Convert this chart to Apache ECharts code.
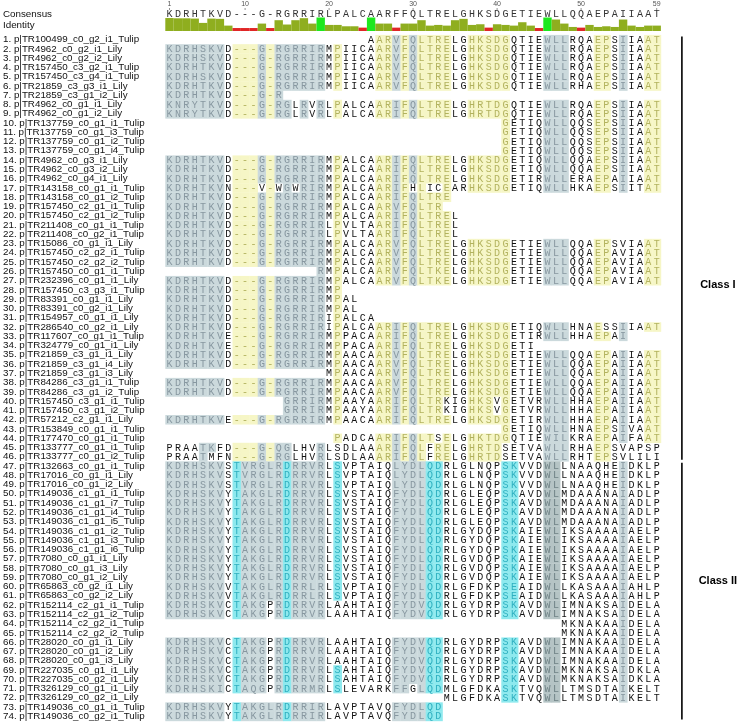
<!DOCTYPE html>
<html><head><meta charset="utf-8">
<script src="https://cdn.jsdelivr.net/npm/echarts@6/dist/echarts.min.js"></script>
<style>html,body{margin:0;padding:0;background:#fff}#c{width:738px;height:722px}</style>
</head><body><div id="c"></div><script>
// ---------------- DATA ----------------
const names = [
"p|TR100499_c0_g2_i1_Tulip","p|TR4962_c0_g2_i1_Lily","p|TR4962_c0_g2_i2_Lily","p|TR157450_c3_g2_i1_Tulip",
"p|TR157450_c3_g4_i1_Tulip","p|TR21859_c3_g3_i1_Lily","p|TR21859_c3_g1_i2_Lily","p|TR4962_c0_g1_i1_Lily",
"p|TR4962_c0_g1_i2_Lily","p|TR137759_c0_g1_i1_Tulip","p|TR137759_c0_g1_i3_Tulip","p|TR137759_c0_g1_i2_Tulip",
"p|TR137759_c0_g1_i4_Tulip","p|TR4962_c0_g3_i1_Lily","p|TR4962_c0_g3_i2_Lily","p|TR4962_c0_g4_i1_Lily",
"p|TR143158_c0_g1_i1_Tulip","p|TR143158_c0_g1_i2_Tulip","p|TR157450_c2_g1_i1_Tulip","p|TR157450_c2_g1_i2_Tulip",
"p|TR211408_c0_g1_i1_Tulip","p|TR211408_c0_g2_i1_Tulip","p|TR15086_c0_g1_i1_Lily","p|TR157450_c2_g2_i1_Tulip",
"p|TR157450_c2_g2_i2_Tulip","p|TR157450_c0_g1_i1_Tulip","p|TR232396_c0_g1_i1_Lily","p|TR157450_c3_g3_i1_Tulip",
"p|TR83391_c0_g1_i1_Lily","p|TR83391_c0_g2_i1_Lily","p|TR154957_c0_g1_i1_Lily","p|TR286540_c0_g2_i1_Lily",
"p|TR117607_c0_g1_i1_Tulip","p|TR324779_c0_g1_i1_Lily","p|TR21859_c3_g1_i1_Lily","p|TR21859_c3_g1_i4_Lily",
"p|TR21859_c3_g1_i3_Lily","p|TR84286_c3_g1_i1_Tulip","p|TR84286_c3_g1_i2_Tulip","p|TR157450_c3_g1_i1_Tulip",
"p|TR157450_c3_g1_i2_Tulip","p|TR57212_c2_g1_i1_Lily","p|TR153849_c0_g1_i1_Tulip","p|TR177470_c0_g1_i1_Tulip",
"p|TR133777_c0_g1_i1_Tulip","p|TR133777_c0_g1_i2_Tulip","p|TR132663_c0_g1_i1_Tulip","p|TR17016_c0_g1_i1_Lily",
"p|TR17016_c0_g1_i2_Lily","p|TR149036_c1_g1_i1_Tulip","p|TR149036_c1_g1_i7_Tulip","p|TR149036_c1_g1_i4_Tulip",
"p|TR149036_c1_g1_i5_Tulip","p|TR149036_c1_g1_i2_Tulip","p|TR149036_c1_g1_i3_Tulip","p|TR149036_c1_g1_i6_Tulip",
"p|TR7080_c0_g1_i1_Lily","p|TR7080_c0_g1_i3_Lily","p|TR7080_c0_g1_i2_Lily","p|TR65863_c0_g2_i1_Lily",
"p|TR65863_c0_g2_i2_Lily","p|TR152114_c2_g1_i1_Tulip","p|TR152114_c2_g1_i2_Tulip","p|TR152114_c2_g2_i1_Tulip",
"p|TR152114_c2_g2_i2_Tulip","p|TR28020_c0_g1_i1_Lily","p|TR28020_c0_g1_i2_Lily","p|TR28020_c0_g1_i3_Lily",
"p|TR227035_c0_g1_i1_Lily","p|TR227035_c0_g2_i1_Lily","p|TR326129_c0_g1_i1_Lily","p|TR326129_c0_g2_i1_Lily",
"p|TR149036_c0_g1_i1_Tulip","p|TR149036_c0_g2_i1_Tulip"
];
const sequences = [
"                        AARVFQLTRELGHKSDGQTIEWLLRQAEPSIIAAT",
"KDRHSKVD---G-RGRRIRMPIICAARVFQLTRELGHKSDGQTIEWLLRQAEPSIIAAT",
"KDRHSKVD---G-RGRRIRMPIICAARVFQLTRELGHKSDGQTIEWLLRQAEPSIIAAT",
"KDRHTKVD---G-RGRRIRMPIICAARVFQLTRELGHKSDGQTIEWLLRQAEPSIIAAT",
"KDRHSKVD---G-RGRRIRMPIICAARVFQLTRELGHKSDGQTIEWLLRQAEPSIIAAT",
"KDRHTKVD---G-RGRRIRMPIICAARVFQLTRELGHKSDGQTIEWLLRHAEPSIIAAT",
"KDRHTKVD---G-R",
"KNRYTKVD---G-RGLRVRLPALCAARIFQLTRELGHRTDGQTIEWLLRQAEPSIIAAT",
"KNRYTKVD---G-RGLRVRLPALCAARIFQLTRELGHRTDGQTIEWLLRQAEPSIIAAT",
"                                        GETIQWLLQQSEPSIIAAT",
"                                        GETIQWLLQQSEPSIIAAT",
"                                        GETIQWLLQQSEPSIIAAT",
"                                        GETIQWLLQQSEPSIIAAT",
"KDRHTKVD---G-RGRRIRMPALCAARIFQLTRELGHKSDGETIQWLLQQAEPSIIAAT",
"KDRHTKVD---G-RGRRIRMPALCAARIFQLTRELGHKSDGETIQWLLQQAEPSIIAAT",
"KDRHTKVD---G-RGRRIRMPALCAARIFQLTRELGHKSDGETIRWLLERAEPAIIAAT",
"KDRHTKVN---V-WGWRIRMPALCAARIFHLICEARHKSDGETIQWLLHKAEPSIITAT",
"KDRHTKVD---G-RGRRIRMPALCAARIFQLTRE",
"KDRHTKVD---G-RGRRIRMPALCAARVFQLTR",
"KDRHTKVD---G-RGRRIRMPALCAARIFQLTREL",
"KDRHTKVD---G-RGRRIRLPVLTAARIFQLTREL",
"KDRHTKVD---G-RGRRIRLPVLTAARIFQLTREL",
"KDRHTKVD---G-RGRRIRMPALCAARVFQLTRELGHKSDGETIEWLLQQAEPSVIAAT",
"KDRHTKVD---G-RGRRIRMPALCAARVFQLTRELGHKSDGETIEWLLQQAEPAVIAAT",
"KDRHTKVD---G-RGRRIRMPALCAARVFQLTRELGHKSDGETIEWLLQQAEPAVIAAT",
"                  RMPALCAARVFQLTKELGHKSDGETIEWLLQQAEPAVIAAT",
"KDRHTKVD---G-RGRRIRMPALCAARVFQLTKELGHKSDGETIEWLLQQAEPAVIAAT",
"KDRHTKVD---G-RGRRIRMP",
"KDRHTKVD---G-RGRRIRMPAL",
"KDRHTKVD---G-RGRRIRMPAL",
"KDRHTKVD---G-RGRRIRIPALCA",
"KDRHTKVD---G-RGRRIRIPALCAARIFQLTRELGHKSDGETIQWLLHNAESSIIAAT",
"KDRHTKVE---G-RGRRIRMPPACAARIFQLTRELGHKSDGETIRWLLHHAEPAI",
"KDRHTKVE---G-RGRRIRMPPACAARIFQLTRELGHKSDGETI",
"KDRHTKVD---G-RGRRIRMPAACAARVFQLTRELGHKSDGETIEWLLQQAEPAIIAAT",
"KDRHTKVD---G-RGRRIRMPAACAARVFQLTRELGHKSDGETIEWLLQQAEPAIIAAT",
"                   MPAACAARVFQLTRELGHKSDGETIEWLLQQAEPAIIAAT",
"KDRHTKVD---G-RGRRIRMPAACAARVFQLTRELGHKSDGETIEWLLQQAEPAIIAAT",
"KDRHTKVD---G-RGRRIRMPAACAARVFQLTRELGHKSDGETIEWLLQQAEPAIIAAT",
"              GRRIRMPAAYAARIFQLTRKIGHKSVGETVRWLLHHAEPAIIAAT",
"              GRRIRMPAAYAARIFQLTRKIGHKSVGETVRWLLHHAEPAIIAAT",
"KDRHTKVE---G-RGRRIRMPAACAARIFQLTRELGHKSDGETIRWLLHHAEPAIIAAT",
"                                        GETIQWLLHNAEPSIVAAT",
"                    PADCAARIFQLTSELGHKTDGQTIEWILKRAEPAIFAAT",
"PRAATKFD---G-QGLHVRLSDLAAARIFQLFRELGHRTDSETVAWLLRHAEPSVAPSP",
"PRAATMFN---G-RGLHVRLSDLAAARIFQLFRELGHRTDSETVAWLLRHTEPSVLILI",
"KDRHSKVSTVRGLRDRRVRLSVPTAIQLYDLQDRLGLNQPSKVVDWLLNAAQHEIDKLP",
"KDRHSKVSTVRGLRDRRVRLSVPTAIQLYDLQDRLGLNQPSKVVDWLLNAAQHEIDKLP",
"KDRHSKVSTVRGLRDRRVRLSVPTAIQLYDLQDRLGLNQPSKVVDWLLNAAQHEIDKLP",
"KDRHSKVYTAKGLRDRRVRLSVSTAIQFYDLQDRLGLEQPSKAVDWLMDAAANAIADLP",
"KDRHSKVYTAKGLRDRRVRLSVSTAIQFYDLQDRLGLEQPSKAVDWLMDAAANAIADLP",
"KDRHSKVYTAKGLRDRRVRLSVSTAIQFYDLQDRLGLEQPSKAVDWLMDAAANAIADLP",
"KDRHSKVYTAKGLRDRRVRLSVSTAIQFYDLQDRLGLEQPSKAVDWLMDAAANAIADLP",
"KDRHSKVYTAKGLRDRRVRLSVSTAIQFYDLQDRLGYDQPSKAIEWLIKSAAAAIAELP",
"KDRHSKVYTAKGLRDRRVRLSVSTAIQFYDLQDRLGYDQPSKAIEWLIKSAAAAIAELP",
"KDRHSKVYTAKGLRDRRVRLSVSTAIQFYDLQDRLGYDQPSKAIEWLIKSAAAAIAELP",
"KDRHSKVYTAKGLRDRRVRLSVSTAIQFYDLQDRLGVDQPSKAIEWLIKSAAAAIAELP",
"KDRHSKVYTAKGLRDRRVRLSVSTAIQFYDLQDRLGVDQPSKAIEWLIKSAAAAIAELP",
"KDRHSKVYTAKGLRDRRVRLSVSTAIQFYDLQDRLGVDQPSKAIEWLIKSAAAAIAELP",
"KDRHSKVVTAKGLRDRRLRLSVPTAIQFYDLQDRLGFDKPSEAIDWLLKASAAAIAHLP",
"KDRHSKVVTAKGLRDRRLRLSVPTAIQFYDLQDRLGFDKPSEAIDWLLKASAAAIAHLP",
"KDRHSKVCTAKGPRDRRVRLAAHTAIQFYDVQDRLGYDRPSKAVDWLIMNAKSAIDELA",
"KDRHSKVCTAKGPRDRRVRLAAHTAIQFYDVQDRLGYDRPSKAVDWLIMNAKSAIDELA",
"                                               MKNAKAAIDELA",
"                                               MKNAKAAIDELA",
"KDRHSKVCTAKGPRDRRVRLAAHTAIQFYDVQDRLGYDRPSKAVDWLIMNAKAAIDELA",
"KDRHSKVCTAKGPRDRRVRLAAHTAIQFYDVQDRLGYDRPSKAVDWLIMNAKAAIDELA",
"KDRHSKVCTAKGPRDRRVRLAAHTAIQFYDVQDRLGYDRPSKAVDWLIMNAKAAIDELA",
"KDRHSKVCTAKGPRDRRVRLSAHTAIQFYDVQDRLGYDRPSKAVDWLMKNAKSAIDKLA",
"KDRHSKVCTAKGPRDRRVRLSAHTAIQFYDVQDRLGYDRPSKAVDWLMKNAKSAIDKLA",
"KDRHSKICTAQGPRDRRMRLSLEVARKFFGLQDMLGFDKASKTVQWLLTMSDTAIKELT",
"                                 MLGFDKASKTVQWLLTMSDTAIKELT",
"KDRHSKVYTAKGLRDRRIRLAVPTAVQFYDLQD",
"KDRHSKVYTAKGLRDRRIRLAVPTAVQFYDLQD"
];
const consensus = "KDRHTKVD---G-RGRRIRLPALCAARFFQLTRELGHKSDGETIEWLLQQAEPAIIAAT";
const identity = [96,94,94,92,60,92,90,40,22,22,22,55,22,80,48,80,95,55,100,45,
                  45,35,35,25,100,55,55,25,55,55,80,40,45,40,80,90,45,50,25,50,
                  45,40,65,40,22,100,85,55,30,25,45,30,35,30,85,40,30,40,40];
const rulerTicks = [1,10,20,30,40,50,59];
const classNames = ["Class I","Class II"];
const classFirstRow = [1,47];
const classLastRow = [46,74];

// ---------------- STYLE (highlighting scheme) ----------------
// per-column highlight code: g grey, y yellow, c cyan, d dark grey, . none
const schemeI  = "ggggggg.yyygygggggg.y....yygygyyyy..yyyyy....ggg...yy.g..yy";
const schemeII = "ggggggg.cgggggcgggg.c......ggggcc.......cc...dd.......g....";
const allowI = ["K","DN","R","HY","TS","K","V","*","-","-","-","G","-","RQ","G","R","R","I","R","*",
 "P","*","*","*","*","A","R","VI","F","Q","L","T","RK","E","*","*","H","KR","ST","D",
 "G","*","*","*","*","W","LI","L","*","*","*","E","P","*","I","*","*","A","T"];
const allowII = ["K","D","R","H","S","K","VI","*","T","VA","RKQ","G","L","R","D","R","R","VLIM","R","*",
 "S","*","*","*","*","*","*","LF","YF","D","LV","Q","D","*","*","*","*","*","*","*",
 "S","KE","*","*","*","W","L","*","*","*","*","*","*","*","I","*","*","*","*"];
const palette = {
  g:{bg:'#cbd9dc', fg:'#8797a0'},
  y:{bg:'#f6f6c6', fg:'#b2b25e'},
  c:{bg:'#8ee9ee', fg:'#2fb0c0'},
  d:{bg:'#b5c4c5', fg:'#6e8185'},
  '.':{bg:null, fg:'#111111'}
};

const nRows = sequences.length, nCols = consensus.length;
const cells = [];
sequences.forEach((s, r) => {
  const cls = (r + 1) >= classFirstRow[1] ? 1 : 0;
  const scheme = cls ? schemeII : schemeI;
  const allow = cls ? allowII : allowI;
  for (let c = 0; c < s.length; c++) {
    const ch = s[c];
    if (ch === ' ') continue;
    let code = scheme[c];
    const a = allow[c];
    if (code !== '.' && a !== '*' && a.indexOf(ch) < 0) code = '.';
    cells.push([c + 1, r, ch, code]);
  }
});

const LEFT = 165.3, COLW = 8.4, TOP = 34.9, ROWH = 9.27;
const WIDTH = COLW * nCols, HEIGHT = ROWH * nRows;

const chart = echarts.init(document.getElementById('c'), null, {renderer:'canvas'});
chart.setOption({
  animation:false,
  grid:[
    {left:LEFT, top:TOP, width:WIDTH, height:HEIGHT},
    {left:LEFT, top:17.5, width:WIDTH, height:13.5},
    {left:LEFT, top:0, width:WIDTH, height:18}
  ],
  xAxis:[
    {gridIndex:0, type:'value', min:0.5, max:nCols+0.5, show:false},
    {gridIndex:1, type:'category', data:consensus.split('').map((d,i)=>i+1), show:false},
    {gridIndex:2, type:'value', min:0.5, max:nCols+0.5, show:false}
  ],
  yAxis:[
    {gridIndex:0, type:'category', inverse:true, data:names.map((n,i)=>(i+1)+'. '+n),
     axisLine:{show:false}, axisTick:{show:false}, splitLine:{show:false},
     axisLabel:{align:'left', margin:LEFT-3, fontSize:9.8, fontFamily:'Liberation Sans, Arial', color:'#111', interval:0}},
    {gridIndex:1, type:'value', min:0, max:100, show:false},
    {gridIndex:2, type:'value', min:0, max:18, inverse:true, show:false}
  ],
  series:[
    {type:'custom', xAxisIndex:0, yAxisIndex:0, clip:false, progressive:0, data:cells,
     dimensions:['col','row','ch','code'],
     encode:{x:0, y:1},
     renderItem:(params, api)=>{
       const d = cells[params.dataIndex];
       const p = api.coord([d[0], d[1]]);
       const w = api.size([1,0])[0];
       const h = api.size([0,1])[1];
       const st = palette[d[3]];
       const children = [];
       if (st.bg) children.push({type:'rect', shape:{x:p[0]-w/2, y:p[1]-h/2, width:w+0.3, height:h+0.3}, style:{fill:st.bg}});
       children.push({type:'text', style:{text:d[2], x:p[0], y:p[1]+0.5, align:'center', verticalAlign:'middle',
         font:'10px "Liberation Mono", "DejaVu Sans Mono", monospace', fill:st.fg}});
       return {type:'group', children};
     }},
    {type:'bar', xAxisIndex:1, yAxisIndex:1, data:identity, barWidth:'100%', barGap:'0%',
     itemStyle:{color:(p)=> p.value>=100 ? '#1ee81e' : (p.value<30 ? '#e02626' : '#8fae1f')}},
    {type:'custom', xAxisIndex:2, yAxisIndex:2, clip:false,
     data:consensus.split('').map((ch,i)=>[i+1, 14]),
     renderItem:(params, api)=>{
       const p = api.coord([api.value(0), api.value(1)]);
       return {type:'text', style:{text:consensus[params.dataIndex], x:p[0], y:p[1], align:'center', verticalAlign:'middle',
         font:'10px "Liberation Mono", "DejaVu Sans Mono", monospace', fill:'#333'}};
     }},
    {type:'custom', xAxisIndex:2, yAxisIndex:2, clip:false,
     data:rulerTicks.map(t=>[t, 4.5]),
     renderItem:(params, api)=>{
       const p = api.coord([api.value(0), api.value(1)]);
       return {type:'group', children:[
         {type:'text', style:{text:String(rulerTicks[params.dataIndex]), x:p[0], y:p[1], align:'center', verticalAlign:'middle',
           font:'7px "Liberation Sans", Arial', fill:'#555'}},
         {type:'line', shape:{x1:p[0], y1:p[1]+3.5, x2:p[0], y2:p[1]+5.5}, style:{stroke:'#777', lineWidth:0.8}}
       ]};
     }},
    {type:'custom', xAxisIndex:0, yAxisIndex:0, clip:false,
     data:classNames.map((n,i)=>[62, classFirstRow[i]-1, classLastRow[i]-1]),
     renderItem:(params, api)=>{
       const top = api.coord([api.value(0), api.value(1)]);
       const bot = api.coord([api.value(0), api.value(2)]);
       const h = api.size([0,1])[1];
       const y1 = top[1]-h/2+1.5, y2 = bot[1]+h/2-1.5;
       return {type:'group', children:[
         {type:'line', shape:{x1:top[0], y1:y1, x2:top[0], y2:y2}, style:{stroke:'#000', lineWidth:1.6}},
         {type:'text', style:{text:classNames[params.dataIndex], x:top[0]+36, y:(y1+y2)/2 + (params.dataIndex===0?37:-10), align:'center', verticalAlign:'middle',
           font:'bold 11px "Liberation Sans", Arial', fill:'#000'}}
       ]};
     }}
  ],
  graphic:[
    {type:'text', left:3, top:9, style:{text:'Consensus', font:'9.8px "Liberation Sans", Arial', fill:'#111'}},
    {type:'text', left:3, top:20, style:{text:'Identity', font:'9.8px "Liberation Sans", Arial', fill:'#111'}}
  ]
});
</script></body></html>
